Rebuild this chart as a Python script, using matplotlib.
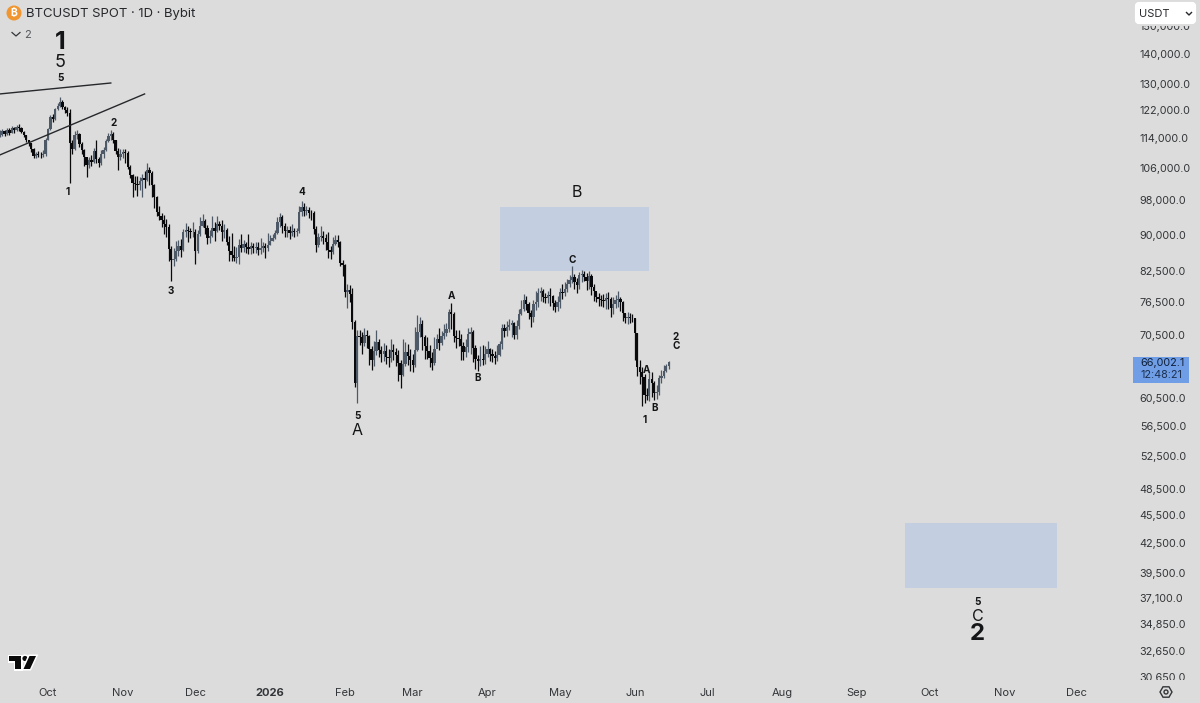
import datetime as dt
import numpy as np
import matplotlib
matplotlib.use("Agg")
import matplotlib.pyplot as plt
import matplotlib.dates as mdates
import matplotlib.patheffects as pe
from matplotlib.patches import Rectangle, FancyBboxPatch, Circle, RegularPolygon, Polygon
from matplotlib.ticker import FixedLocator, FixedFormatter, NullLocator

plt.rcParams['font.family'] = ['Inter', 'Noto Sans', 'Roboto', 'Open Sans', 'Lato', 'DejaVu Sans']

first_day = dt.date(2025, 9, 11)

# daily candles, in thousands of USDT
closes = [
    115.0,116.0,115.2,116.3,115.6,116.8,116.2,117.3,116.9,115.8,
    114.9,113.4,112.6,111.0,109.2,109.6,109.4,109.3,109.7,113.6,
    116.5,120.1,119.5,122.3,123.4,124.6,123.0,122.0,121.3,112.6,
    111.0,114.8,115.3,112.4,110.7,108.8,106.9,108.2,107.6,110.6,
    108.3,107.2,109.8,110.8,113.2,114.6,115.1,113.4,110.6,109.0,
    109.6,110.3,110.1,106.3,104.2,102.3,102.0,101.6,102.6,103.4,
    103.0,105.6,104.7,101.8,98.8,95.2,94.2,93.5,92.4,91.8,
    87.0,84.7,84.9,86.5,87.6,86.9,90.8,91.2,90.9,90.6,
    90.6,86.5,90.2,92.0,93.1,91.6,89.4,89.9,91.6,91.0,
    92.4,92.1,90.8,91.2,88.5,86.6,85.8,85.2,85.4,87.8,
    87.3,88.0,87.5,87.0,87.6,87.2,87.4,86.8,87.2,87.6,
    87.2,87.8,88.7,89.4,90.4,93.0,94.0,92.0,90.9,91.2,
    90.5,90.9,90.6,91.0,95.2,96.5,95.4,95.6,95.0,94.9,
    91.4,87.9,89.5,89.9,89.3,88.5,86.8,86.4,88.0,88.9,
    88.6,84.1,83.6,78.3,78.8,78.0,72.9,62.8,70.4,70.2,
    69.2,70.6,70.3,68.2,66.4,67.8,69.4,68.0,67.3,67.8,
    66.9,66.7,68.0,67.6,67.2,65.9,64.0,65.8,67.6,67.0,
    66.4,65.6,68.0,71.0,72.4,70.2,68.7,67.9,66.7,65.9,
    68.2,69.9,69.2,70.3,70.9,71.6,74.6,74.2,70.4,70.0,
    69.8,68.7,67.6,68.5,70.8,71.1,68.4,66.5,66.2,66.6,
    66.4,67.4,68.2,67.3,67.0,66.7,67.2,69.0,71.8,71.2,
    72.0,72.3,72.6,70.6,72.2,74.2,75.2,76.9,76.0,74.4,
    73.8,76.0,76.4,78.2,78.6,77.4,77.2,77.8,77.5,76.2,
    75.5,76.4,78.4,78.1,79.0,79.8,80.6,81.2,80.3,79.7,
    81.6,81.8,81.3,80.4,81.4,79.3,78.6,77.4,77.0,76.8,
    76.7,77.2,77.0,75.4,76.0,76.8,77.1,76.4,74.4,73.6,
    73.8,73.6,73.5,70.9,65.3,64.4,63.7,61.0,60.8,63.3,
    62.8,61.3,61.4,63.5,63.8,64.6,65.4,66.0,
]
highs = [
    116.2,116.6,116.4,116.8,116.8,117.4,117.2,117.8,117.9,117.2,
    116.0,115.0,113.6,112.8,111.4,110.2,110.4,110.2,110.8,114.2,
    117.0,120.6,120.8,122.8,124.2,126.0,125.0,123.2,123.0,122.4,
    113.6,116.0,116.2,115.6,113.0,111.0,108.6,109.0,109.4,111.4,
    113.6,108.8,110.8,111.6,113.8,115.4,116.2,115.8,113.6,111.4,
    111.0,111.0,111.0,110.4,106.8,104.6,104.0,104.0,103.6,104.4,
    105.2,107.4,106.4,105.2,102.0,99.0,96.6,95.0,94.6,93.6,
    92.4,87.6,87.2,88.8,89.0,89.2,91.4,92.8,92.0,91.6,
    93.0,91.4,91.2,94.0,94.8,93.6,92.2,91.2,94.2,93.0,
    94.2,93.2,93.4,92.4,91.6,89.8,90.4,87.6,87.4,89.2,
    90.2,89.0,88.6,90.2,88.6,88.4,88.6,88.6,89.4,88.6,
    88.2,90.4,90.0,90.2,91.2,94.0,95.0,94.6,92.6,92.0,
    92.0,92.4,91.6,91.6,96.6,97.8,97.4,96.6,96.4,95.8,
    95.4,92.0,90.4,92.0,91.0,90.2,90.8,87.6,89.6,90.0,
    90.0,88.8,84.8,83.8,79.8,79.6,79.2,73.2,71.4,71.4,
    71.0,71.8,71.4,70.6,68.6,69.6,71.4,69.8,68.6,69.2,
    68.8,68.2,69.8,69.0,68.4,68.0,66.4,69.8,69.4,69.0,
    68.2,67.4,72.0,74.0,73.8,73.2,70.6,70.2,68.8,67.6,
    70.2,70.8,71.8,71.2,72.4,72.6,75.2,76.2,74.6,71.4,
    71.4,70.8,69.4,69.8,71.8,71.9,71.4,68.8,67.2,68.6,
    68.8,68.6,69.6,68.4,68.2,67.8,68.8,69.6,72.4,72.4,
    73.0,73.4,73.2,72.8,73.2,75.2,76.8,78.0,77.6,76.4,
    75.0,76.8,78.6,79.2,79.4,79.0,78.2,78.6,79.2,77.8,
    76.8,77.6,79.2,79.8,80.2,80.8,81.6,83.4,81.8,81.0,
    82.2,82.6,82.4,82.0,82.4,81.8,79.8,78.4,78.2,77.8,
    78.0,78.2,78.4,77.4,77.4,77.8,78.6,77.4,76.6,74.4,
    74.6,74.4,74.2,73.6,70.9,66.4,65.2,64.2,62.0,64.4,
    64.4,63.0,62.4,64.0,64.8,65.6,65.8,66.2,
]
lows = [
    114.4,114.6,114.6,115.0,115.0,115.4,115.6,116.0,116.0,115.4,
    114.4,113.0,111.8,110.2,108.6,108.6,108.8,108.6,108.8,109.2,
    113.4,116.4,118.6,119.2,122.2,123.0,122.4,121.2,120.4,102.2,
    109.8,110.8,113.8,111.6,109.6,106.6,103.6,106.0,106.6,107.2,
    107.4,106.4,106.8,108.6,110.4,113.0,113.6,112.8,109.6,105.4,
    108.0,108.6,107.4,105.8,103.4,98.8,100.6,99.0,100.4,98.8,
    101.0,102.8,101.6,98.8,96.2,94.4,93.4,91.8,90.2,89.6,
    84.6,80.4,83.4,84.6,85.6,85.4,86.6,89.6,88.6,89.4,
    89.6,83.8,86.2,89.8,91.8,90.2,88.0,88.4,89.6,88.8,
    90.6,91.2,88.8,89.4,87.8,84.4,84.6,84.4,84.0,83.8,
    86.4,86.4,86.2,86.0,86.0,86.2,86.2,85.8,86.0,86.4,
    85.2,86.6,87.8,88.8,89.2,90.2,91.8,90.4,89.6,89.6,
    89.2,89.8,89.6,89.8,90.4,94.4,94.4,94.6,93.8,93.4,
    90.2,86.4,87.4,88.8,88.0,86.8,85.2,85.0,86.0,87.8,
    87.4,83.4,81.4,77.4,75.4,76.4,71.6,62.2,59.8,68.8,
    67.4,68.6,68.4,65.6,64.8,65.4,67.2,66.8,66.0,66.2,
    65.8,65.2,66.0,66.4,65.4,63.0,62.0,63.8,65.4,65.6,
    64.6,64.4,65.2,67.8,70.2,68.0,66.6,66.6,65.2,64.8,
    65.6,68.6,68.0,68.8,69.8,70.4,71.0,71.6,69.4,68.4,
    68.6,66.4,66.4,66.8,67.6,67.4,66.0,65.0,64.6,65.4,
    65.6,65.8,66.8,66.2,66.0,65.8,66.2,67.0,68.2,70.2,
    70.4,71.4,70.2,69.8,69.8,71.6,74.0,74.8,75.0,73.4,
    72.0,72.8,75.0,75.6,76.6,76.4,76.2,76.2,75.8,75.0,
    74.6,74.8,75.4,77.0,77.6,78.4,79.4,80.0,79.0,78.2,
    79.0,80.2,80.4,78.8,79.0,77.8,76.6,76.4,75.8,75.8,
    75.6,75.2,75.2,73.8,74.2,75.4,75.6,74.8,73.0,72.6,
    72.4,72.6,72.8,66.4,63.8,62.6,59.4,59.8,60.2,60.0,
    60.6,60.2,60.4,61.0,62.8,63.6,64.4,65.0,
]

price_ticks = [150000, 140000, 130000, 122000, 114000, 106000, 98000, 90000, 82500, 76500,
               70500, 60500, 56500, 52500, 48500, 45500, 42500, 39500, 37100, 34850, 32650, 30650]
month_ticks = ["2025-10-01", "2025-11-01", "2025-12-01", "2026-01-01", "2026-02-01", "2026-03-01", "2026-04-01",
               "2026-05-01", "2026-06-01", "2026-07-01", "2026-08-01", "2026-09-01", "2026-10-01", "2026-11-01", "2026-12-01"]
month_labels = ["Oct", "Nov", "Dec", "2026", "Feb", "Mar", "Apr", "May", "Jun", "Jul", "Aug", "Sep", "Oct", "Nov", "Dec"]

# (date, price, text, font px, weight)
wave_labels = [
    ("2025-10-09", 100000, "1", 10, "bold"),
    ("2025-10-28", 118300, "2", 10, "bold"),
    ("2025-11-21", 78600, "3", 10, "bold"),
    ("2026-01-14", 100000, "4", 10, "bold"),
    ("2026-02-06", 57900, "5", 10, "bold"),
    ("2026-02-06", 55900, "A", 16, "normal"),
    ("2026-03-17", 77600, "A", 10, "bold"),
    ("2026-03-28", 63500, "B", 10, "bold"),
    ("2026-05-06", 84700, "C", 10, "bold"),
    ("2026-06-05", 57300, "1", 10, "bold"),
    ("2026-06-06", 64700, "A", 10, "bold"),
    ("2026-06-09", 59000, "B", 10, "bold"),
    ("2026-06-18", 70200, "2", 10, "bold"),
    ("2026-06-18", 68700, "C", 10, "bold"),
    ("2026-05-08", 99800, "B", 16, "normal"),
    ("2025-10-06", 143900, "1", 25, "bold"),
    ("2025-10-06", 137000, "5", 18, "normal"),
    ("2025-10-06", 132000, "5", 10, "bold"),
    ("2026-10-21", 36780, "5", 10, "bold"),
    ("2026-10-21", 35500, "C", 16, "normal"),
    ("2026-10-21", 34000, "2", 24, "bold"),
]
# (start, end, low, high)
boxes = [
    ("2026-04-06", "2026-06-07", 82470, 96500),
    ("2026-09-21", "2026-11-23", 38070, 44600),
]
trend_lines = [
    ("2025-09-11", 127000, "2025-10-27", 130440),
    ("2025-09-11", 109430, "2025-11-10", 127000),
]

bg = "#dcdcdc"
up_col = "#4d5966"
down_col = "#0a0a0c"
text_col = "#333639"

W, H = 1200, 703
fig = plt.figure(figsize=(12, 7.03), dpi=100, facecolor=bg)
ax = fig.add_axes([0, 1 - 681 / H, 1130 / W, 681 / H], facecolor=bg)
for s in ax.spines.values():
    s.set_visible(False)

def day(s):
    return mdates.date2num(dt.date.fromisoformat(s))

days = mdates.date2num(first_day) + np.arange(len(closes))
c = np.array(closes) * 1000
h = np.array(highs) * 1000
l = np.array(lows) * 1000
o = np.r_[c[0], c[:-1]]
rising = c >= o

ax.set_yscale("log")
oct1 = day("2025-10-01")
px_day = 2.415
ax.set_xlim(oct1 - 48 / px_day, oct1 + (1130 - 48) / px_day)
ax.set_ylim(140000 * np.exp(-627 / 410), 140000 * np.exp(54 / 410))

for x0, x1, lo, hi in boxes:
    ax.add_patch(Rectangle((day(x0), lo), day(x1) - day(x0), hi - lo, fc="#c3cfe0", ec="none", zorder=1))

ax.vlines(days[rising], l[rising], h[rising], color=up_col, lw=0.9, zorder=2)
ax.vlines(days[~rising], l[~rising], h[~rising], color=down_col, lw=0.9, zorder=2)
ax.bar(days[rising], (c - o)[rising], bottom=o[rising], width=0.95, color=up_col, lw=0, zorder=3)
ax.bar(days[~rising], (o - c)[~rising], bottom=c[~rising], width=0.95, color=down_col, lw=0, zorder=3)

for d0, p0, d1, p1 in trend_lines:
    ax.plot([day(d0), day(d1)], [p0, p1], color="#26282b", lw=1.0, zorder=4)

for d, p, s, size, weight in wave_labels:
    ax.text(day(d), p, s, ha="center", va="center", fontsize=size * 0.72, fontweight=weight,
            color="#141517", zorder=5)

ax.yaxis.tick_right()
ax.yaxis.set_major_locator(FixedLocator(price_ticks))
ax.yaxis.set_major_formatter(FixedFormatter([f"{v:,.1f}" for v in price_ticks]))
ax.yaxis.set_minor_locator(NullLocator())
ax.tick_params(axis="y", length=0, pad=7, labelsize=7.8, labelcolor=text_col)
ax.xaxis.set_major_locator(FixedLocator([day(m) for m in month_ticks]))
ax.xaxis.set_major_formatter(FixedFormatter(month_labels))
ax.tick_params(axis="x", length=0, pad=5, labelsize=8, labelcolor=text_col)
for t, name in zip(ax.get_xticklabels(), month_labels):
    if name == "2026":
        t.set_fontweight("bold")

# window chrome, placed in pixels on top of the chart
ui = fig.add_axes([0, 0, 1, 1], facecolor="none")
ui.set_xlim(0, W)
ui.set_ylim(H, 0)
ui.axis("off")

ui.add_patch(Rectangle((1130, 680), 70, 23, fc=bg, ec="none"))
ui.add_patch(Rectangle((1130, 0), 70, 26, fc=bg, ec="none"))

ui.add_patch(Circle((14, 13), 7.5, fc="#f0952f", ec="none"))
ui.text(14, 13.3, "₿", ha="center", va="center", fontsize=7.5, color="white", fontweight="bold")
ui.text(26, 14, "BTCUSDT SPOT · 1D · Bybit", ha="left", va="center", fontsize=9.45, color="#26282b")
ui.plot([12, 16, 20], [32.5, 36, 32.5], color="#333639", lw=0.9)
ui.text(24, 34.5, "2", ha="left", va="center", fontsize=8, color="#55585c")

ui.add_patch(FancyBboxPatch((1137, 4), 57, 18, boxstyle="round,pad=0,rounding_size=2", fc="white", ec="white", lw=3))
ui.text(1138.5, 14, "USDT", ha="left", va="center", fontsize=8, color="#26282b")
ui.plot([1186.5, 1189, 1191.5], [12.5, 15, 12.5], color="#26282b", lw=1)

ui.add_patch(Rectangle((1133, 357), 56, 26, fc="#6f9ee6", ec="none"))
ui.text(1140, 363.5, "66,002.1", ha="left", va="center", fontsize=7.8, color="#10203a")
ui.text(1140, 375.5, "12:48:21", ha="left", va="center", fontsize=7.8, color="#1c3050")

logo = [
    Polygon([(9, 656), (21, 656), (21, 669), (15, 669), (15, 661), (9, 661)], closed=True),
    Circle((25, 658.5), 2.6),
    Polygon([(29.5, 656), (36, 656), (30, 669), (23.5, 669)], closed=True),
]
for p in logo:
    p.set(fc="#0a0a0a", ec="none", zorder=3,
          path_effects=[pe.withStroke(linewidth=2.2, foreground="white")])
    ui.add_patch(p)

ui.add_patch(RegularPolygon((1166, 692), 6, radius=6, orientation=np.pi / 2, fc="none", ec="#333639", lw=1))
ui.add_patch(Circle((1166, 692), 2, fc="none", ec="#333639", lw=1))

fig.savefig("out.png", dpi=100, facecolor=bg)
